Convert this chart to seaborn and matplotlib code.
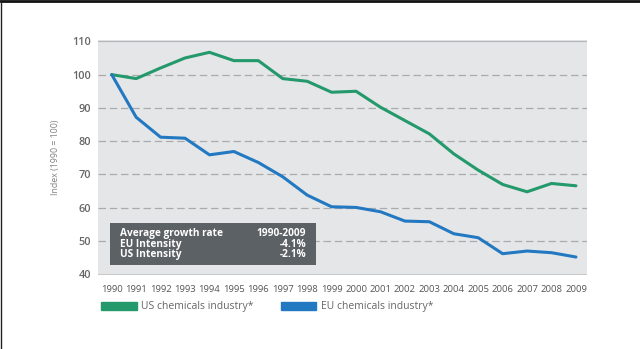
import matplotlib
matplotlib.use("Agg")
import matplotlib.pyplot as plt
import matplotlib.patches as mpatches
from matplotlib.lines import Line2D
import seaborn as sns
import pandas as pd

years = list(range(1990, 2010))
us_index = [100, 98.8, 102.0, 105.0, 106.7, 104.2, 104.2, 98.8, 98.0, 94.7,
            95.0, 90.2, 86.2, 82.2, 76.2, 71.3, 67.0, 64.8, 67.3, 66.6]
eu_index = [100, 87.2, 81.2, 80.9, 75.9, 76.9, 73.6, 69.3, 63.8, 60.3,
            60.1, 58.8, 56.0, 55.8, 52.2, 51.0, 46.2, 47.0, 46.5, 45.2]
series_names = ["US chemicals industry*", "EU chemicals industry*"]
y_ticks = [40, 50, 60, 70, 80, 90, 100, 110]
box_rows = [("Average growth rate", "1990-2009"),
            ("EU Intensity", "-4.1%"),
            ("US Intensity", "-2.1%")]

green = "#23996c"
blue = "#2279c2"

df = pd.DataFrame({
    "year": years * 2,
    "index": us_index + eu_index,
    "series": [series_names[0]] * len(years) + [series_names[1]] * len(years),
})

sns.set_theme(style="white")
plt.rcParams["font.family"] = ["Open Sans", "DejaVu Sans"]

fig = plt.figure(figsize=(6.4, 3.49), dpi=100)
fig.patch.set_facecolor("white")
ax = fig.add_axes([98.3 / 640, 1 - 275 / 349, (586.7 - 98.3) / 640, (275 - 40) / 349])
ax.set_facecolor("#e5e6e8")

sns.lineplot(data=df, x="year", y="index", hue="series",
             palette=[green, blue], linewidth=2.2, ax=ax, legend=False, zorder=3)

ax.set_xlim(1989.45, 2009.44)
ax.set_ylim(39.8, 110.4)
ax.set_yticks(y_ticks)
ax.set_yticklabels([str(v) for v in y_ticks])
ax.set_xticks(years)
ax.set_xticklabels([str(y) for y in years])

for v in y_ticks[1:-1]:
    ax.axhline(v, color="#a9abae", lw=0.9, ls=(0, (6, 3)), zorder=1)
ax.axhline(110, color="#b5b7ba", lw=0.9, zorder=1)
ax.axhline(40, color="#c8c9cb", lw=0.8, zorder=1)

for s in ax.spines.values():
    s.set_visible(False)

ax.tick_params(axis="y", length=0, pad=5, labelsize=7.8, labelcolor="#666666")
ax.tick_params(axis="x", length=0, pad=7, labelsize=6.8, labelcolor="#555555")
for lab in ax.get_yticklabels():
    lab.set_fontweight("semibold")

ax.set_xlabel("")
ax.set_ylabel("Index (1990 = 100)", fontsize=6.3, color="#808080", labelpad=9)

# summary box
box = mpatches.Rectangle((1989.93, 42.95), 1998.35 - 1989.93, 55.3 - 42.95,
                         facecolor="#5c6165", edgecolor="none", zorder=4)
ax.add_patch(box)
row_y = [52.3, 49.0, 45.9]
for (left, right), yy in zip(box_rows, row_y):
    ax.text(1990.35, yy, left, color="white", fontsize=7.3, fontweight="bold",
            va="center", ha="left", zorder=5)
    ax.text(1997.95, yy, right, color="white", fontsize=7.3, fontweight="bold",
            va="center", ha="right", zorder=5)

# legend
handles = [mpatches.Patch(color=green), mpatches.Patch(color=blue)]
leg = fig.legend(handles, series_names, loc="center left",
                 bbox_to_anchor=(92 / 640, 1 - 307 / 349), ncol=2,
                 frameon=False, fontsize=7.5, handlelength=3.4, handleheight=0.9,
                 handletextpad=0.45, columnspacing=2.6)
for t in leg.get_texts():
    t.set_color("#666666")

# thin dark frame edges along the top and left
fig.add_artist(Line2D([0, 1], [1 - 1 / 349, 1 - 1 / 349], transform=fig.transFigure,
                      color="#111111", lw=2))
fig.add_artist(Line2D([0.5 / 640, 0.5 / 640], [0, 1], transform=fig.transFigure,
                      color="#222222", lw=1))

fig.savefig("out.png", dpi=100)
